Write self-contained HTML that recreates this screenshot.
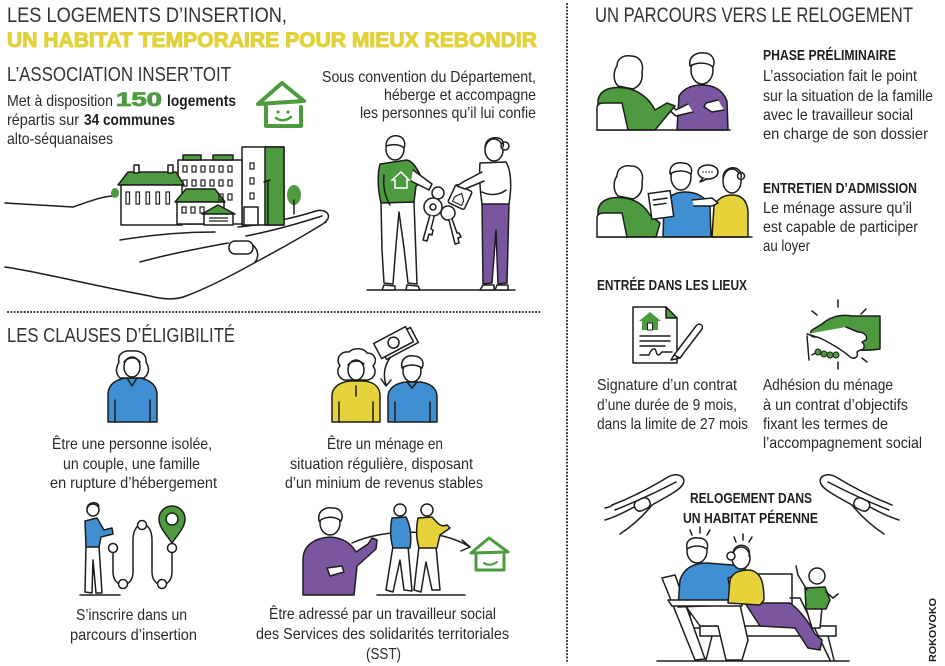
<!DOCTYPE html>
<html><head><meta charset="utf-8">
<style>
html,body{margin:0;padding:0;background:#fff;}
svg{display:block;}
.t{font-family:"Liberation Sans",sans-serif;fill:#2a2a2a;}
.h{font-family:"Liberation Sans",sans-serif;fill:#333;}
.b{font-family:"Liberation Sans",sans-serif;font-weight:bold;fill:#1f1f1f;}
.s{stroke:#1d1d1b;stroke-width:1.5;stroke-linecap:round;stroke-linejoin:round;}
.w{fill:#fff;}
.n{fill:none;}
.g{fill:#4e9a3f;}
.y{fill:#e6d33c;}
.bl{fill:#3f8fd2;}
.p{fill:#7a55a0;}
</style></head><body>
<svg width="945" height="666" viewBox="0 0 945 666" xmlns="http://www.w3.org/2000/svg">
<rect width="945" height="666" fill="#fff"/>

<!-- dotted separators -->
<line x1="567" y1="4" x2="567" y2="663" stroke="#1d1d1b" stroke-width="2" stroke-dasharray="0.1 3.2" stroke-linecap="round"/>
<line x1="8" y1="312" x2="540" y2="312" stroke="#1d1d1b" stroke-width="2" stroke-dasharray="0.1 3.2" stroke-linecap="round"/>

<!-- ===== TOP LEFT TEXT ===== -->
<text class="h" x="7" y="22" font-size="21" textLength="280" lengthAdjust="spacingAndGlyphs">LES LOGEMENTS D’INSERTION,</text>
<text x="7" y="47" font-size="21" font-weight="bold" font-family="Liberation Sans, sans-serif" fill="#e3d13a" stroke="#e3d13a" stroke-width="1" textLength="530" lengthAdjust="spacingAndGlyphs">UN HABITAT TEMPORAIRE POUR MIEUX REBONDIR</text>
<text class="h" x="7" y="81" font-size="20" textLength="224" lengthAdjust="spacingAndGlyphs">L’ASSOCIATION INSER’TOIT</text>
<text class="t" x="7" y="106" font-size="16" textLength="106" lengthAdjust="spacingAndGlyphs">Met à disposition</text>
<text x="116" y="106" font-size="19" font-weight="bold" font-family="Liberation Sans, sans-serif" fill="#4e9a3f" stroke="#4e9a3f" stroke-width="0.8" textLength="46" lengthAdjust="spacingAndGlyphs">150</text>
<text class="b" x="167" y="106" font-size="16" textLength="69" lengthAdjust="spacingAndGlyphs">logements</text>
<text class="t" x="7" y="125" font-size="16" textLength="72" lengthAdjust="spacingAndGlyphs">répartis sur</text>
<text class="b" x="84" y="125" font-size="16" textLength="91" lengthAdjust="spacingAndGlyphs">34 communes</text>
<text class="t" x="7" y="144" font-size="16" textLength="106" lengthAdjust="spacingAndGlyphs">alto-séquanaises</text>

<text class="t" x="322" y="82" font-size="16" textLength="214" lengthAdjust="spacingAndGlyphs">Sous convention du Département,</text>
<text class="t" x="384" y="100" font-size="16" textLength="152" lengthAdjust="spacingAndGlyphs">héberge et accompagne</text>
<text class="t" x="360" y="118" font-size="16" textLength="176" lengthAdjust="spacingAndGlyphs">les personnes qu’il lui confie</text>

<!-- logo house -->
<g stroke="#4e9a3f" stroke-width="4" fill="none" stroke-linecap="round" stroke-linejoin="round">
<path d="M258,104 L282,83 L304,101 Z"/>
<path d="M266,107 L266,126 L301,126 L301,107"/>
<path d="M276,118 Q283,123 291,117" stroke-width="2.5"/>
</g>
<circle cx="278" cy="112" r="1.6" fill="#4e9a3f"/><circle cx="288" cy="112" r="1.6" fill="#4e9a3f"/>

<!-- ===== HAND WITH BUILDINGS ===== -->
<g class="s n">
<path d="M5,203 L73,207 C88,202 100,197 112,196"/>
<path d="M5,267 C40,272 90,285 150,296 C165,300 176,300 186,296 C210,287 238,272 256,262 C282,248 310,232 326,222"/>
<path d="M238,227 C262,225 294,218 316,211 C326,208 333,216 325,222"/>
<path d="M246,236 C272,231 300,223 322,216"/>
<path d="M140,262 C165,255 195,249 228,243"/>
<path d="M255,262 C260,256 258,246 248,243"/>
<path d="M120,240 C150,235 180,232 215,232"/>
</g>
<rect x="229" y="241" width="24" height="13" rx="6" class="s w"/>

<!-- buildings -->
<g class="s">
<rect x="242" y="147" width="42" height="78" class="w"/>
<rect x="265" y="147" width="19" height="78" class="g"/>
<rect x="178" y="160" width="64" height="64" class="w"/>
<rect x="183" y="155" width="18" height="5" class="g"/>
<rect x="213" y="155" width="20" height="5" class="g"/>
<path d="M118,185 L128,172 L176,172 L184,185 Z" class="g"/>
<rect x="121" y="185" width="61" height="40" class="w"/>
<rect x="134" y="165" width="5" height="8" class="w"/>
<rect x="168" y="165" width="5" height="8" class="w"/>
<path d="M175,202 L186,189 L215,189 L225,202 Z" class="g"/>
<rect x="177" y="202" width="47" height="22" class="w"/>
<path d="M202,214 L218,205 L235,214 Z" class="g"/>
<rect x="204" y="214" width="29" height="11" class="w"/>
<rect x="244" y="207" width="14" height="18" class="w"/>
</g>
<g fill="none" stroke="#1d1d1b" stroke-width="1.2">
<rect x="183" y="166" width="4" height="6"/><rect x="192" y="166" width="4" height="6"/><rect x="201" y="166" width="4" height="6"/><rect x="210" y="166" width="4" height="6"/><rect x="219" y="166" width="4" height="6"/><rect x="228" y="166" width="4" height="6"/>
<rect x="183" y="180" width="4" height="6"/><rect x="192" y="180" width="4" height="6"/><rect x="201" y="180" width="4" height="6"/><rect x="210" y="180" width="4" height="6"/><rect x="219" y="180" width="4" height="6"/><rect x="228" y="180" width="4" height="6"/>
<rect x="219" y="194" width="4" height="6"/><rect x="228" y="194" width="4" height="6"/>
<rect x="250" y="163" width="4" height="6"/><rect x="250" y="178" width="4" height="6"/><rect x="250" y="193" width="4" height="6"/>
<rect x="126" y="192" width="3.5" height="12"/><rect x="136" y="192" width="3.5" height="12"/><rect x="146" y="192" width="3.5" height="12"/><rect x="156" y="192" width="3.5" height="12"/><rect x="166" y="192" width="3.5" height="12"/>
<rect x="182" y="207" width="4" height="6"/><rect x="191" y="207" width="4" height="6"/><rect x="200" y="207" width="4" height="6"/>
<line x1="209" y1="218" x2="228" y2="218"/><line x1="209" y1="221" x2="228" y2="221"/>
</g>
<line x1="268" y1="181" x2="268" y2="225" class="s"/>
<path d="M264,182 L270,180" class="s"/>
<ellipse cx="294" cy="195" rx="7" ry="10" class="g"/>
<line x1="294" y1="200" x2="294" y2="214" class="s"/>
<ellipse cx="115" cy="193" rx="4" ry="5" class="g"/>

<!-- ===== KEY HANDOVER ===== -->
<line x1="367" y1="290" x2="515" y2="290" class="s"/>
<g class="s">
<path d="M381,202 L382,250 L384,283 L393,284 L396,245 L399,212 L404,248 L408,283 L417,284 L414,202 Z" class="w"/>
<path d="M380,164 L407,160 C415,162 420,174 423,182 L416,186 L414,202 L381,203 C378,190 377,176 380,164 Z" class="g"/>
<path d="M413,170 L432,184 L429,190 L411,181" class="w"/>
<path d="M384,175 C383,185 384,195 390,205" class="n"/>
<ellipse cx="395" cy="149" rx="9" ry="11" class="w"/>
<path d="M386,146 C386,138 392,135 398,136 C404,137 406,143 404,148 C400,144 392,144 386,146 Z" class="w"/>
<path d="M384,285 L395,286 L395,290 L382,290 Z" class="w"/>
<path d="M407,285 L418,286 L420,290 L406,290 Z" class="w"/>
</g>
<path d="M392,180 L401,172 L409,180 L407,180 L407,188 L395,188 L395,180 Z" fill="none" stroke="#fff" stroke-width="1.5"/>
<g class="s">
<circle cx="438" cy="193" r="6" class="n"/>
<circle cx="433" cy="207" r="9" class="w"/>
<circle cx="433" cy="207" r="3" class="n"/>
<path d="M430,215 L423,240 L427,241 L429,234 L432,235 L433,230 L431,229 L434,217" class="w"/>
<circle cx="448" cy="213" r="7" class="w"/>
<path d="M449,220 L455,244 L459,243 L458,238 L461,237 L459,233 L457,233 L452,219" class="w"/>
<g transform="rotate(25 460 197)"><rect x="451" y="187" width="18" height="20" rx="2" class="w"/><path d="M455,199 L460,193 L465,199 L465,204 L455,204 Z" class="n" stroke-width="1.1"/></g>
</g>
<g class="s">
<path d="M482,203 L509,203 L507,283 L498,284 L496,230 L492,283 L483,284 Z" class="p"/>
<path d="M480,163 L506,162 C511,170 512,186 509,204 L482,204 C480,190 479,176 480,163 Z" class="w"/>
<path d="M482,172 L463,182 L457,186 L465,189 L484,181" class="w"/>
<path d="M482,192 C490,196 500,195 506,190" class="n"/>
<ellipse cx="494" cy="150" rx="9" ry="11" class="w"/>
<circle cx="505" cy="146" r="4" class="w"/>
<path d="M485,147 C486,139 492,137 498,138 C503,139 504,143 503,147" class="n"/>
<path d="M483,285 L494,285 L494,290 L480,290 Z" class="w"/>
<path d="M497,285 L508,285 L508,290 L495,290 Z" class="w"/>
</g>

<!-- ===== CLAUSES ===== -->
<text class="h" x="7" y="342" font-size="20" textLength="228" lengthAdjust="spacingAndGlyphs">LES CLAUSES D’ÉLIGIBILITÉ</text>

<g class="s">
<path d="M108,422 L108,395 C108,385 115,380 125,378 L140,378 C150,380 157,385 157,395 L157,422 Z" class="bl"/>
<path d="M120,378 C114,372 117,366 119,362 C117,354 124,350 132,351 C141,350 147,355 146,362 C149,367 150,373 144,378 Z" class="w"/>
<ellipse cx="132" cy="367" rx="8" ry="10" class="w"/>
<path d="M124,362 C128,357 136,356 140,362" class="n"/>
<path d="M127,378 L132,386 L137,378" class="n"/>
<line x1="115" y1="400" x2="115" y2="422" class="s"/>
<line x1="150" y1="400" x2="150" y2="422" class="s"/>
</g>
<text class="t" x="52" y="449" font-size="16" textLength="160" lengthAdjust="spacingAndGlyphs">Être une personne isolée,</text>
<text class="t" x="63" y="469" font-size="16" textLength="137" lengthAdjust="spacingAndGlyphs">un couple, une famille</text>
<text class="t" x="50" y="488" font-size="16" textLength="167" lengthAdjust="spacingAndGlyphs">en rupture d’hébergement</text>

<g class="s">
<path d="M332,422 L332,396 C332,387 340,382 350,381 L364,381 C374,382 380,387 380,396 L380,422 Z" class="y"/>
<path d="M344,380 C336,376 337,369 340,366 C335,358 341,351 349,352 C354,347 364,348 367,353 C375,353 378,361 373,366 C377,371 375,378 368,380 Z" class="w"/>
<ellipse cx="356" cy="370" rx="8" ry="10" class="w"/>
<path d="M348,365 C352,360 360,360 364,364" class="n"/>
<line x1="356" y1="386" x2="356" y2="396"/>
<line x1="339" y1="402" x2="339" y2="422"/><line x1="373" y1="402" x2="373" y2="422"/>
<path d="M388,422 L388,397 C388,388 396,383 406,382 L420,382 C430,383 437,388 437,397 L437,422 Z" class="bl"/>
<ellipse cx="412" cy="371" rx="9" ry="11" class="w"/>
<path d="M402,368 C400,358 408,355 414,356 C421,356 425,362 422,368 C416,364 408,364 402,368 Z" class="w"/>
<path d="M407,382 L412,388 L417,382" class="n"/>
<line x1="395" y1="402" x2="395" y2="422"/><line x1="430" y1="402" x2="430" y2="422"/>
<g transform="rotate(-28 396 343)">
<rect x="380" y="336" width="36" height="17" class="w"/>
<rect x="376" y="333" width="36" height="17" class="w"/>
<circle cx="394" cy="341.5" r="5.5" class="n"/>
</g>
<path d="M390,358 C384,366 383,375 386,385" class="n"/>
<path d="M381,379 L386,386 L391,380" class="n"/>
</g>
<text class="t" x="327" y="449" font-size="16" textLength="116" lengthAdjust="spacingAndGlyphs">Être un ménage en</text>
<text class="t" x="290" y="469" font-size="16" textLength="183" lengthAdjust="spacingAndGlyphs">situation régulière, disposant</text>
<text class="t" x="285" y="488" font-size="16" textLength="198" lengthAdjust="spacingAndGlyphs">d’un minium de revenus stables</text>

<g class="s">
<line x1="80" y1="595" x2="120" y2="595"/>
<path d="M86,546 L85,592 L92,593 L93,560 L96,593 L102,593 L99,546 Z" class="w"/>
<path d="M85,521 L97,518 L104,530 L112,528 L113,534 L101,537 L99,547 L86,547 Z" class="bl"/>
<circle cx="93" cy="510" r="6" class="w"/>
<path d="M87,508 C88,502 97,501 99,506" class="n"/>
<path d="M113,548 L113,572 C113,589 133,589 133,572 L133,540 C133,519 152,519 152,540 L152,572 C152,589 172,589 172,572 L172,548" class="n"/>
<circle cx="113" cy="548" r="4.5" class="w"/>
<circle cx="142" cy="525" r="4.5" class="w"/>
<circle cx="123" cy="584" r="4.5" class="w"/>
<circle cx="162" cy="584" r="4.5" class="w"/>
<circle cx="172" cy="548" r="4.5" class="w"/>
<path d="M172,543 C165,533 159,527 159,519 A13,13 0 1 1 185,519 C185,527 179,533 172,543 Z" class="g"/>
<circle cx="172" cy="519" r="6" class="w"/>
</g>
<text class="t" x="76" y="620" font-size="16" textLength="111" lengthAdjust="spacingAndGlyphs">S’inscrire dans un</text>
<text class="t" x="70" y="640" font-size="16" textLength="127" lengthAdjust="spacingAndGlyphs">parcours d’insertion</text>

<g class="s">
<path d="M303,595 L303,560 C303,545 315,538 330,537 C345,538 352,545 356,552 L368,544 L372,538 L377,540 L376,549 L357,566 L354,595 Z" class="p"/>
<path d="M327,568 L342,566 L344,572 L330,576 Z" class="w"/>
<ellipse cx="330" cy="523" rx="10" ry="12" class="w"/>
<path d="M319,521 C317,510 326,507 333,508 C341,508 344,515 341,521 C335,516 326,516 319,521 Z" class="w"/>
<path d="M352,543 C385,528 440,528 470,547" class="n"/>
<path d="M462,540 L470,547 L461,551" class="n"/>
<line x1="377" y1="595" x2="465" y2="595"/>
<path d="M393,546 L386,590 L393,592 L400,560 L404,590 L412,591 L408,546 Z" class="w"/>
<path d="M392,518 L406,517 C410,525 412,535 410,548 L393,548 C390,538 390,528 392,518 Z" class="bl"/>
<circle cx="400" cy="510" r="6" class="w"/>
<path d="M419,546 L414,590 L421,592 L426,562 L432,590 L440,590 L436,546 Z" class="w"/>
<path d="M418,518 L432,517 C437,522 440,528 447,525 L450,528 L440,535 L437,548 L419,548 C416,538 416,528 418,518 Z" class="y"/>
<circle cx="427" cy="510" r="6" class="w"/>
</g>
<g stroke="#4e9a3f" stroke-width="3" fill="none" stroke-linecap="round" stroke-linejoin="round">
<path d="M471,553 L489,538 L508,552 Z"/>
<path d="M476,555 L476,570 L504,570 L504,555"/>
<path d="M484,563 Q490,567 497,562" stroke-width="2"/>
</g>
<text class="t" x="269" y="619" font-size="16" textLength="227" lengthAdjust="spacingAndGlyphs">Être adressé par un travailleur social</text>
<text class="t" x="256" y="639" font-size="16" textLength="253" lengthAdjust="spacingAndGlyphs">des Services des solidarités territoriales</text>
<text class="t" x="366" y="659" font-size="16" textLength="35" lengthAdjust="spacingAndGlyphs">(SST)</text>

<!-- ===== RIGHT COLUMN ===== -->
<text class="h" x="595" y="22" font-size="21" textLength="318" lengthAdjust="spacingAndGlyphs">UN PARCOURS VERS LE RELOGEMENT</text>

<g class="s">
<path d="M677,130 L679,96 C684,88 692,85 702,85 C715,85 723,91 727,101 L728,130 Z" class="p"/>
<path d="M688,104 L676,110 L672,106 L668,109 L676,116 L693,112" class="w"/>
<path d="M718,100 L706,103 L704,107 L712,112 L724,110" class="w"/>
<ellipse cx="702" cy="70" rx="11" ry="14" class="w"/>
<path d="M690,66 C688,56 697,52 704,53 C712,53 716,60 713,67 C707,62 697,62 690,66 Z" class="w"/>
<path d="M598,130 L598,100 C600,90 610,86 625,88 C640,90 650,100 655,110 L667,103 L675,106 L664,119 L655,130 Z" class="g"/>
<path d="M618,86 C612,80 614,70 617,66 C617,58 624,55 631,56 C640,56 644,64 642,72 C643,80 640,86 633,89 Z" class="w"/>
<path d="M597,130 L597,108 C597,104 600,103 604,103 L622,103 L628,130" class="w"/>
<line x1="597" y1="130" x2="730" y2="130"/>
</g>
<text class="b" x="763" y="60" font-size="15" textLength="133" lengthAdjust="spacingAndGlyphs">PHASE PRÉLIMINAIRE</text>
<text class="t" x="763" y="81" font-size="16" textLength="154" lengthAdjust="spacingAndGlyphs">L’association fait le point</text>
<text class="t" x="763" y="101" font-size="16" textLength="170" lengthAdjust="spacingAndGlyphs">sur la situation de la famille</text>
<text class="t" x="763" y="120" font-size="16" textLength="150" lengthAdjust="spacingAndGlyphs">avec le travailleur social</text>
<text class="t" x="763" y="139" font-size="16" textLength="165" lengthAdjust="spacingAndGlyphs">en charge de son dossier</text>

<g class="s">
<path d="M712,237 L714,206 C718,198 724,195 732,195 C742,195 747,201 748,211 L748,237 Z" class="y"/>
<ellipse cx="732" cy="181" rx="9" ry="12" class="w"/>
<circle cx="741" cy="176" r="3.5" class="w"/>
<path d="M723,178 C723,170 730,167 735,168 C740,169 742,174 741,178" class="n"/>
<path d="M663,237 L664,205 C668,196 675,192 685,192 C698,192 706,198 710,206 L711,237 Z" class="bl"/>
<path d="M692,200 L712,198 L718,203 L712,206 L694,206" class="w"/>
<ellipse cx="681" cy="177" rx="10" ry="13" class="w"/>
<path d="M670,174 C669,165 676,162 683,163 C690,163 693,169 691,174 C685,170 676,170 670,174 Z" class="w"/>
<ellipse cx="708" cy="172" rx="10" ry="7" class="w"/>
<path d="M703,178 L700,182 L707,179" class="w"/>
<path d="M598,237 L598,210 C600,200 610,196 625,198 C638,200 645,207 650,215 L660,223 L656,237 Z" class="g"/>
<g transform="rotate(-8 661 205)"><rect x="650" y="192" width="22" height="26" class="w"/><line x1="654" y1="199" x2="668" y2="199"/><line x1="654" y1="204" x2="666" y2="204"/></g>
<path d="M618,196 C612,190 614,180 617,176 C617,168 624,165 631,166 C640,166 644,174 642,182 C643,190 640,196 633,199 Z" class="w"/>
<path d="M597,237 L597,218 C597,214 600,213 604,213 L622,213 L627,237" class="w"/>
<line x1="597" y1="237" x2="752" y2="237"/>
</g>
<g fill="#1d1d1b"><circle cx="703" cy="172" r="0.8"/><circle cx="706" cy="172" r="0.8"/><circle cx="709" cy="172" r="0.8"/><circle cx="712" cy="172" r="0.8"/></g>
<text class="b" x="763" y="193" font-size="15" textLength="154" lengthAdjust="spacingAndGlyphs">ENTRETIEN D’ADMISSION</text>
<text class="t" x="763" y="213" font-size="16" textLength="149" lengthAdjust="spacingAndGlyphs">Le ménage assure qu’il</text>
<text class="t" x="763" y="232" font-size="16" textLength="155" lengthAdjust="spacingAndGlyphs">est capable de participer</text>
<text class="t" x="763" y="251" font-size="16" textLength="47" lengthAdjust="spacingAndGlyphs">au loyer</text>

<text class="b" x="597" y="290" font-size="15" textLength="150" lengthAdjust="spacingAndGlyphs">ENTRÉE DANS LES LIEUX</text>
<g class="s">
<path d="M633,307 L666,307 L677,318 L677,363 L633,363 Z" class="w"/>
<path d="M666,307 L677,318 L666,318 Z" class="g"/>
<path d="M639,321 L650,312 L661,321 Z" class="g" stroke="none"/>
<rect x="642" y="320" width="16" height="10" class="g" stroke="none"/>
<rect x="647.5" y="323" width="5" height="7" class="w" stroke="#1d1d1b" stroke-width="1"/>
<line x1="640" y1="336" x2="670" y2="336"/>
<line x1="640" y1="341" x2="670" y2="341"/>
<line x1="640" y1="346" x2="665" y2="346"/>
<path d="M640,355 L649,355 C651,349 655,347 656,351 C657,356 659,356 662,352 L672,352" class="n"/>
<path d="M674,355 L696,326 C699,322 704,325 702,329 L680,358 Z" class="w"/>
<path d="M674,355 L671,360 L680,358" class="n"/>
</g>
<g class="s">
<path d="M880,316 L852,316 C840,314 830,317 822,324 L812,330 C808,334 812,339 818,336 L830,331 L834,340 C844,350 860,352 880,349 Z" class="g"/>
<path d="M807,334 L820,338 C832,344 842,350 849,356 C853,360 859,358 857,352 L860,350 C864,350 866,346 862,342 L866,340 C868,336 864,332 858,332 L846,327" class="w"/>
<path d="M807,336 L809,360" class="n"/>
<line x1="838" y1="300" x2="838" y2="307"/>
<line x1="812" y1="311" x2="817" y2="315"/>
<line x1="866" y1="309" x2="861" y2="314"/>
<line x1="812" y1="355" x2="817" y2="352"/>
<line x1="862" y1="358" x2="867" y2="362"/>
<line x1="838" y1="362" x2="838" y2="369"/>
</g>
<g fill="#4e9a3f" stroke="#1d1d1b" stroke-width="1"><circle cx="818" cy="352" r="3"/><circle cx="824" cy="354" r="3"/><circle cx="830" cy="355" r="3"/><circle cx="836" cy="355" r="3"/></g>

<text class="t" x="597" y="390" font-size="16" textLength="140" lengthAdjust="spacingAndGlyphs">Signature d’un contrat</text>
<text class="t" x="597" y="410" font-size="16" textLength="140" lengthAdjust="spacingAndGlyphs">d’une durée de 9 mois,</text>
<text class="t" x="597" y="429" font-size="16" textLength="151" lengthAdjust="spacingAndGlyphs">dans la limite de 27 mois</text>
<text class="t" x="763" y="390" font-size="16" textLength="130" lengthAdjust="spacingAndGlyphs">Adhésion du ménage</text>
<text class="t" x="763" y="410" font-size="16" textLength="145" lengthAdjust="spacingAndGlyphs">à un contrat d’objectifs</text>
<text class="t" x="763" y="429" font-size="16" textLength="125" lengthAdjust="spacingAndGlyphs">fixant les termes de</text>
<text class="t" x="763" y="448" font-size="16" textLength="159" lengthAdjust="spacingAndGlyphs">l’accompagnement social</text>

<g class="s n">
<path d="M612,505 C630,498 650,488 668,477 C676,472 687,476 683,484 C680,490 668,496 652,505"/>
<path d="M615,510 C635,502 655,493 676,482"/>
<path d="M605,508 C610,507 612,506 612,505"/>
<path d="M652,505 C644,515 632,526 620,534"/>
<path d="M605,520 C612,518 625,512 636,506"/>
</g>
<rect x="634" y="499" width="16" height="11" rx="5" transform="rotate(-25 642 504)" class="s w"/>
<g transform="translate(1504,0) scale(-1,1)">
<g class="s n">
<path d="M612,505 C630,498 650,488 668,477 C676,472 687,476 683,484 C680,490 668,496 652,505"/>
<path d="M615,510 C635,502 655,493 676,482"/>
<path d="M652,505 C644,515 632,526 620,534"/>
<path d="M605,520 C612,518 625,512 636,506"/>
</g>
<rect x="634" y="499" width="16" height="11" rx="5" transform="rotate(-25 642 504)" class="s w"/>
</g>
<text class="b" x="690" y="503" font-size="15" textLength="122" lengthAdjust="spacingAndGlyphs">RELOGEMENT DANS</text>
<text class="b" x="683" y="523" font-size="15" textLength="135" lengthAdjust="spacingAndGlyphs">UN HABITAT PÉRENNE</text>

<g class="s">
<line x1="657" y1="661" x2="849" y2="661"/>
<rect x="690" y="574" width="102" height="54" class="w"/>
<rect x="700" y="626" width="136" height="10" class="w"/>
<line x1="712" y1="636" x2="706" y2="660"/><line x1="828" y1="636" x2="834" y2="660"/>
<path d="M790,598 L800,598 L830,660" class="n"/>
<path d="M662,578 L675,575 L705,659 L695,660 Z" class="w"/>
<path d="M685,605 L740,605 L748,640 L742,660 L726,660 L718,626 L700,626 Z" class="w"/>
<path d="M678,607 L680,580 C684,568 694,563 707,563 L745,566 L746,573 L728,578 L733,605 Z" class="bl"/>
<path d="M668,600 L742,600 L742,606 L672,606 Z" class="w"/>
<ellipse cx="697" cy="551" rx="10" ry="12" class="w"/>
<path d="M687,549 C685,540 692,537 699,538 C706,538 709,544 707,549 C701,545 693,545 687,549 Z" class="w"/>
<path d="M745,603 L790,603 C800,610 810,624 815,634 L822,640 L820,650 L808,648 L795,628 L760,626 Z" class="p"/>
<path d="M728,603 L730,580 C733,572 740,570 750,570 C760,572 764,580 764,600 L760,605 Z" class="y"/>
<ellipse cx="741" cy="558" rx="9" ry="11" class="w"/>
<circle cx="731" cy="556" r="4" class="w"/>
<path d="M733,553 C734,546 740,544 745,546 C749,548 750,552 749,556" class="n"/>
<path d="M806,608 L812,628 L820,628 L822,608" class="w"/>
<path d="M805,588 L825,587 L830,600 L826,609 L806,609 Z" class="g"/>
<path d="M807,590 L798,575 L796,566" class="n"/>
<path d="M826,592 L833,598 L838,594" class="n"/>
<circle cx="817" cy="576" r="8" class="w"/>
<line x1="690" y1="530" x2="692" y2="535"/><line x1="700" y1="527" x2="700" y2="533"/><line x1="710" y1="530" x2="707" y2="535"/>
<line x1="734" y1="537" x2="736" y2="542"/><line x1="743" y1="534" x2="743" y2="540"/><line x1="752" y1="537" x2="749" y2="542"/>
</g>

<text transform="translate(936,662) rotate(-90)" font-family="Liberation Sans, sans-serif" font-weight="bold" font-size="10" fill="#1d1d1b" textLength="64" lengthAdjust="spacingAndGlyphs">ROKOVOKO</text>
</svg>
</body></html>
